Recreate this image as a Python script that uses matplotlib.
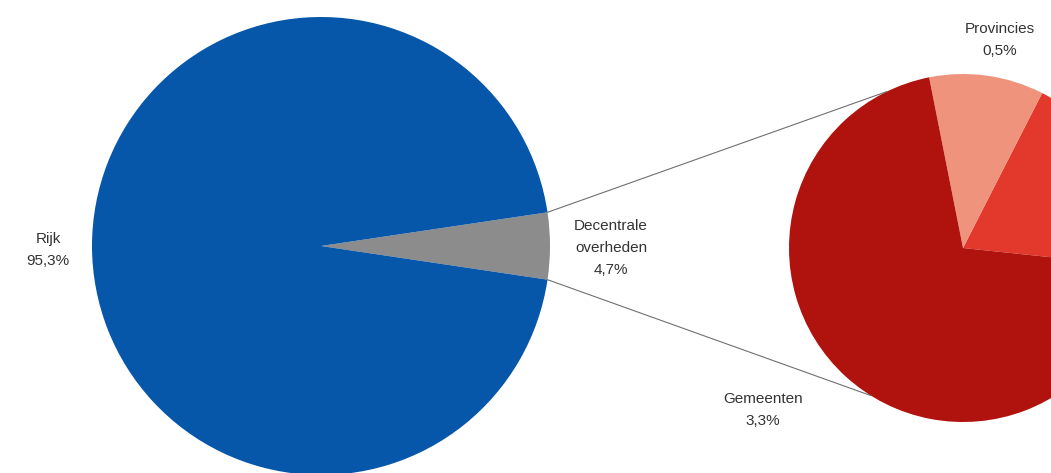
import numpy as np
import matplotlib.pyplot as plt

plt.rcParams['font.family'] = ['Liberation Sans', 'DejaVu Sans']

# main pie: decentral vs central government
main_labels = ['Decentrale\noverheden', 'Rijk']
main_values = [4.7, 95.3]
main_colors = ['#8c8c8c', '#0656a9']

# breakdown of the decentral part (third slice label falls outside the crop)
sub_labels = ['Waterschappen', 'Provincies', 'Gemeenten']
sub_values = [0.9, 0.5, 3.3]
sub_colors = ['#e2392c', '#f0937c', '#b0120e']

W, H = 1051, 473
fig = plt.figure(figsize=(W / 100, H / 100), dpi=100)
ax = fig.add_axes([0, 0, 1, 1])

big_c, big_r = (321, 227), 229
small_c, small_r = (963, 225), 174

half = main_values[0] / sum(main_values) * 360 / 2
ax.pie(main_values, colors=main_colors, startangle=-half, counterclock=True,
       center=big_c, radius=big_r, wedgeprops=dict(linewidth=0), frame=True)
ax.pie(sub_values, colors=sub_colors, startangle=-6, counterclock=True,
       center=small_c, radius=small_r, wedgeprops=dict(linewidth=0), frame=True)
ax.set_xlim(0, W)
ax.set_ylim(0, H)
ax.set_aspect('equal')
ax.axis('off')

# connector lines from the grey wedge to the second pie
for a_big, a_small in [(half, 116), (-half, 238)]:
    x0 = big_c[0] + big_r * np.cos(np.radians(a_big))
    y0 = big_c[1] + big_r * np.sin(np.radians(a_big))
    x1 = small_c[0] + small_r * np.cos(np.radians(a_small))
    y1 = small_c[1] + small_r * np.sin(np.radians(a_small))
    ax.plot([x0, x1], [y0, y1], color='#707070', lw=0.8)

def fmt(label, v):
    return f"{label}\n{v:.1f}%".replace('.', ',')

txt = dict(ha='center', va='center', fontsize=11, color='#333333', linespacing=1.7)
ax.text(48, H - 250, fmt(main_labels[1], main_values[1]), **txt)
ax.text(611, H - 248, fmt(main_labels[0], main_values[0]), **txt)
ax.text(763, H - 410, fmt(sub_labels[2], sub_values[2]), **txt)
ax.text(1000, H - 40, fmt(sub_labels[1], sub_values[1]), **txt)

fig.savefig('out.png', dpi=100)
